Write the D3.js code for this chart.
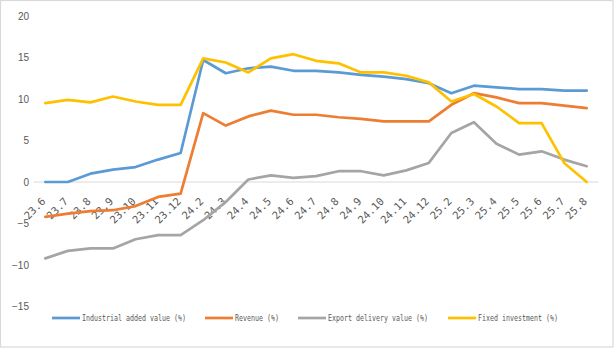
<!DOCTYPE html>
<html>
<head>
<meta charset="utf-8">
<script src="https://cdn.jsdelivr.net/npm/d3@7"></script>
<style>
html,body{margin:0;padding:0;background:#fff;}
svg{display:block;}
</style>
</head>
<body>
<svg id="chart" width="614" height="348"></svg>
<script>
const categories = ["23.6","23.7","23.8","23.9","23.10","23.11","23.12","24.2","24.3","24.4","24.5","24.6","24.7","24.8","24.9","24.10","24.11","24.12","25.2","25.3","25.4","25.5","25.6","25.7","25.8"];
const industrial = [0,0,1.0,1.5,1.8,2.7,3.5,14.7,13.1,13.7,13.9,13.4,13.4,13.2,12.9,12.7,12.4,11.9,10.7,11.6,11.4,11.2,11.2,11.0,11.0];
const revenue = [-4.2,-3.8,-3.5,-3.4,-2.9,-1.8,-1.4,8.3,6.8,7.9,8.6,8.1,8.1,7.8,7.6,7.3,7.3,7.3,9.3,10.7,10.2,9.5,9.5,9.2,8.9];
const exportValue = [-9.2,-8.3,-8.0,-8.0,-6.9,-6.4,-6.4,-4.6,-2.4,0.3,0.8,0.5,0.7,1.3,1.3,0.8,1.4,2.3,5.9,7.2,4.6,3.3,3.7,2.7,1.9];
const fixedInvestment = [9.5,9.9,9.6,10.3,9.7,9.3,9.3,14.9,14.4,13.2,14.9,15.4,14.6,14.3,13.2,13.2,12.8,12.0,9.7,10.6,9.1,7.1,7.1,2.3,0.0];
const seriesNames = ["Industrial added value (%)","Revenue (%)","Export delivery value (%)","Fixed investment (%)"];
const seriesColors = ["#5B9BD5","#ED7D31","#A5A5A5","#FFC000"];
const yTicks = [-15,-10,-5,0,5,10,15,20];

const seriesData = [industrial, revenue, exportValue, fixedInvestment];
const svg = d3.select("#chart");
const W = 614, H = 348;

svg.append("rect").attr("x",0.5).attr("y",0.5).attr("width",W-1.5).attr("height",H-1.5)
  .attr("fill","#fff").attr("stroke","#d9d9d9").attr("stroke-width",1.2);

const x = d3.scaleBand().domain(categories).range([34,598]);
const xc = d => x(d) + x.bandwidth()/2;
const y = d3.scaleLinear().domain([-15,20]).range([306.5,16]);

// zero baseline
svg.append("line").attr("x1",34).attr("x2",598).attr("y1",y(0)).attr("y2",y(0))
  .attr("stroke","#d9d9d9").attr("stroke-width",1);

// y axis labels
const yAxis = d3.axisLeft(y).tickValues(yTicks).tickSize(0).tickPadding(0).tickFormat(d3.format("d"));
const yg = svg.append("g").attr("transform","translate(29,0)").call(yAxis);
yg.select(".domain").remove();
yg.selectAll("text").attr("font-family","Liberation Sans, Arial, sans-serif").attr("font-size","10px").attr("fill","#595959")
  .text(d => d < 0 ? "\u2212" + Math.abs(d) : d);

// x axis labels rotated
const xAxis = d3.axisBottom(x).tickSize(0).tickPadding(0);
const xg = svg.append("g").attr("transform",`translate(0,${y(0)})`).call(xAxis);
xg.select(".domain").remove();
xg.selectAll(".tick text")
  .attr("font-family","DejaVu Sans Mono, monospace").attr("font-size","10.5px").attr("fill","#595959")
  .attr("text-anchor","end")
  .attr("dy",null).attr("y",null)
  .attr("transform","translate(1,20) rotate(-45)");

// lines
const line = d3.line().x((d,i)=>xc(categories[i])).y(d=>y(d));
seriesData.forEach((s,k)=>{
  svg.append("path").datum(s).attr("d",line).attr("fill","none")
    .attr("stroke",seriesColors[k]).attr("stroke-width",2.7)
    .attr("stroke-linejoin","round").attr("stroke-linecap","round");
});

// legend
const legendX = [52,205,298,448];
const ly = 318;
const lg = svg.append("g");
seriesNames.forEach((n,k)=>{
  lg.append("line").attr("x1",legendX[k]).attr("x2",legendX[k]+28).attr("y1",ly).attr("y2",ly)
    .attr("stroke",seriesColors[k]).attr("stroke-width",2.7);
  lg.append("text").attr("x",legendX[k]+30).attr("y",ly+3)
    .attr("font-family","DejaVu Sans Mono, monospace").attr("font-size","8.5px").attr("fill","#595959")
    .attr("textLength",n.length*4).attr("lengthAdjust","spacingAndGlyphs")
    .text(n);
});
</script>
</body>
</html>
